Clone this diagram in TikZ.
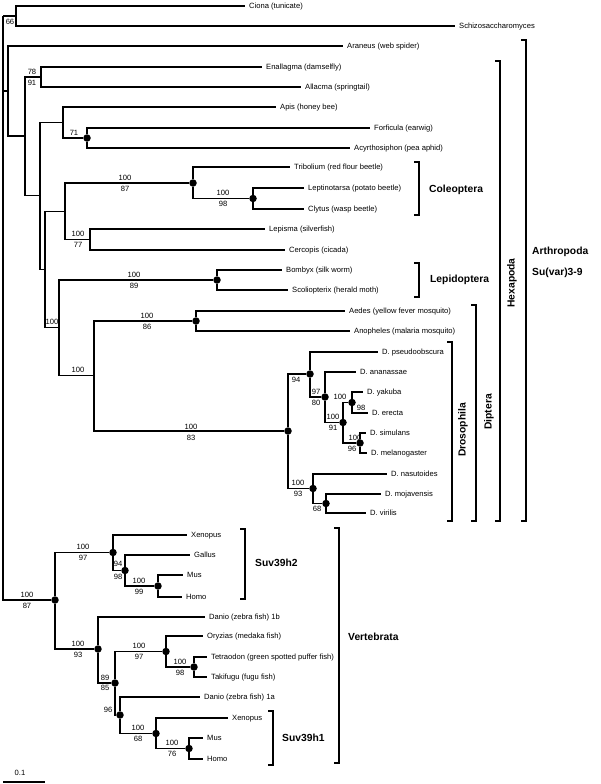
\documentclass[tikz,border=0pt]{standalone}
\usepackage{fontspec}
\setmainfont{Liberation Sans}
\newcommand\mylbl{\fontsize{7.6}{9}\selectfont}
\newcommand\mygrp{\fontsize{10.3}{12}\selectfont\bfseries}
\begin{document}
\begin{tikzpicture}[x=1pt,y=-1pt,
  br/.style={line width=1.15pt},
  brk/.style={line width=1.2pt},
  dot/.style={circle,fill=black,inner sep=0pt,minimum size=7.5pt},
  leaf/.style={anchor=west,inner xsep=4pt,inner ysep=0pt,font=\mylbl,text height=5.5pt,text depth=0pt},
  bs/.style={inner sep=0pt,font=\mylbl,text height=5.5pt,text depth=0pt},
  grp/.style={anchor=west,inner sep=0pt,font=\mygrp},
  vgrp/.style={rotate=90,inner sep=0pt,font=\mygrp}]
\useasboundingbox (0,0) rectangle (600,784);
% internal nodes without support dots
\coordinate (root) at (3,16);
\coordinate (n66) at (16,16);
\coordinate (arth) at (8,91);
\coordinate (hexa) at (25,136);
\coordinate (n78) at (41,77);
\coordinate (nB) at (40,195.5);
\coordinate (nApis) at (63,122.5);
\coordinate (nC) at (45,269.5);
\coordinate (nD) at (65,211.5);
\coordinate (nlep) at (90,239.5);
\coordinate (nE) at (59,327.5);
\coordinate (nDip) at (94,375.5);
% internal nodes with dots
\node[dot] (n71) at (87,138) {};
\node[dot] (ncol) at (193,183) {};
\node[dot] (ncol2) at (253,198.5) {};
\node[dot] (nLepi) at (217,280) {};
\node[dot] (nCul) at (196,321) {};
\node[dot] (nDro) at (288,431) {};
\node[dot] (n94) at (310,374) {};
\node[dot] (n97) at (325,397) {};
\node[dot] (n100c) at (343,422.5) {};
\node[dot] (nyak) at (352,402.5) {};
\node[dot] (nsim) at (360,443) {};
\node[dot] (n100b) at (313,488.5) {};
\node[dot] (n68) at (326,503.5) {};
\node[dot] (nV) at (55,600) {};
\node[dot] (nH2) at (113,552.5) {};
\node[dot] (n94v) at (125,570.5) {};
\node[dot] (nmh2) at (158,586) {};
\node[dot] (nH1) at (98,649) {};
\node[dot] (n89) at (115,683) {};
\node[dot] (nfish) at (166,651.5) {};
\node[dot] (ntet) at (194,667) {};
\node[dot] (n96) at (120,715) {};
\node[dot] (nH1b) at (156,733.5) {};
\node[dot] (nmh1) at (189,748.5) {};
% leaves
\node[leaf] (ciona) at (245,6) {Ciona (tunicate)};
\node[leaf] (schizo) at (455,26) {Schizosaccharomyces};
\node[leaf] (araneus) at (343,46) {Araneus (web spider)};
\node[leaf] (enallagma) at (262,67) {Enallagma (damselfly)};
\node[leaf] (allacma) at (301,87) {Allacma (springtail)};
\node[leaf] (apis) at (276,107) {Apis (honey bee)};
\node[leaf] (forficula) at (370,128) {Forficula (earwig)};
\node[leaf] (acyrtho) at (350,148) {Acyrthosiphon (pea aphid)};
\node[leaf] (tribolium) at (290,167) {Tribolium (red flour beetle)};
\node[leaf] (leptino) at (304,188) {Leptinotarsa (potato beetle)};
\node[leaf] (clytus) at (304,209) {Clytus (wasp beetle)};
\node[leaf] (lepisma) at (265,229) {Lepisma (silverfish)};
\node[leaf] (cercopis) at (285,250) {Cercopis (cicada)};
\node[leaf] (bombyx) at (282,270) {Bombyx (silk worm)};
\node[leaf] (scolio) at (288,290) {Scoliopterix (herald moth)};
\node[leaf] (aedes) at (345,311) {Aedes (yellow fever mosquito)};
\node[leaf] (anopheles) at (350,331) {Anopheles (malaria mosquito)};
\node[leaf] (pseudo) at (378,352) {D. pseudoobscura};
\node[leaf] (ananassae) at (356,372) {D. ananassae};
\node[leaf] (yakuba) at (363,392) {D. yakuba};
\node[leaf] (erecta) at (368,413) {D. erecta};
\node[leaf] (simulans) at (366,433) {D. simulans};
\node[leaf] (melano) at (367,453) {D. melanogaster};
\node[leaf] (nasut) at (387,474) {D. nasutoides};
\node[leaf] (mojav) at (381,494) {D. mojavensis};
\node[leaf] (virilis) at (366,513) {D. virilis};
\node[leaf] (xenopus2) at (187,535) {Xenopus};
\node[leaf] (gallus) at (190,555) {Gallus};
\node[leaf] (mus2) at (183,575) {Mus};
\node[leaf] (homo2) at (182,597) {Homo};
\node[leaf] (danio1b) at (205,617) {Danio (zebra fish) 1b};
\node[leaf] (oryzias) at (203,636) {Oryzias (medaka fish)};
\node[leaf] (tetra) at (207,657) {Tetraodon (green spotted puffer fish)};
\node[leaf] (takifugu) at (207,677) {Takifugu (fugu fish)};
\node[leaf] (danio1a) at (200,697) {Danio (zebra fish) 1a};
\node[leaf] (xenopus1) at (228,718) {Xenopus};
\node[leaf] (mus1) at (203,738) {Mus};
\node[leaf] (homo1) at (203,759) {Homo};
% branches
\draw[br] (root) |- (n66); \draw[br] (root) |- (arth); \draw[br] (root) |- (nV);
\draw[br] (n66) |- (ciona.west); \draw[br] (n66) |- (schizo.west);
\draw[br] (arth) |- (araneus.west); \draw[br] (arth) |- (hexa);
\draw[br] (hexa) |- (n78); \draw[br] (hexa) |- (nB);
\draw[br] (n78) |- (enallagma.west); \draw[br] (n78) |- (allacma.west);
\draw[br] (nB) |- (nApis); \draw[br] (nB) |- (nC);
\draw[br] (nApis) |- (apis.west); \draw[br] (nApis) |- (n71);
\draw[br] (n71) |- (forficula.west); \draw[br] (n71) |- (acyrtho.west);
\draw[br] (nC) |- (nD); \draw[br] (nC) |- (nE);
\draw[br] (nD) |- (ncol); \draw[br] (nD) |- (nlep);
\draw[br] (ncol) |- (tribolium.west); \draw[br] (ncol) |- (ncol2);
\draw[br] (ncol2) |- (leptino.west); \draw[br] (ncol2) |- (clytus.west);
\draw[br] (nlep) |- (lepisma.west); \draw[br] (nlep) |- (cercopis.west);
\draw[br] (nE) |- (nLepi); \draw[br] (nE) |- (nDip);
\draw[br] (nLepi) |- (bombyx.west); \draw[br] (nLepi) |- (scolio.west);
\draw[br] (nDip) |- (nCul); \draw[br] (nDip) |- (nDro);
\draw[br] (nCul) |- (aedes.west); \draw[br] (nCul) |- (anopheles.west);
\draw[br] (nDro) |- (n94); \draw[br] (nDro) |- (n100b);
\draw[br] (n94) |- (pseudo.west); \draw[br] (n94) |- (n97);
\draw[br] (n97) |- (ananassae.west); \draw[br] (n97) |- (n100c);
\draw[br] (n100c) |- (nyak); \draw[br] (n100c) |- (nsim);
\draw[br] (nyak) |- (yakuba.west); \draw[br] (nyak) |- (erecta.west);
\draw[br] (nsim) |- (simulans.west); \draw[br] (nsim) |- (melano.west);
\draw[br] (n100b) |- (nasut.west); \draw[br] (n100b) |- (n68);
\draw[br] (n68) |- (mojav.west); \draw[br] (n68) |- (virilis.west);
\draw[br] (nV) |- (nH2); \draw[br] (nV) |- (nH1);
\draw[br] (nH2) |- (xenopus2.west); \draw[br] (nH2) |- (n94v);
\draw[br] (n94v) |- (gallus.west); \draw[br] (n94v) |- (nmh2);
\draw[br] (nmh2) |- (mus2.west); \draw[br] (nmh2) |- (homo2.west);
\draw[br] (nH1) |- (danio1b.west); \draw[br] (nH1) |- (n89);
\draw[br] (n89) |- (nfish); \draw[br] (n89) |- (n96);
\draw[br] (nfish) |- (oryzias.west); \draw[br] (nfish) |- (ntet);
\draw[br] (ntet) |- (tetra.west); \draw[br] (ntet) |- (takifugu.west);
\draw[br] (n96) |- (danio1a.west); \draw[br] (n96) |- (nH1b);
\draw[br] (nH1b) |- (xenopus1.west); \draw[br] (nH1b) |- (nmh1);
\draw[br] (nmh1) |- (mus1.west); \draw[br] (nmh1) |- (homo1.west);
% support values
\node[bs] (b66) at (10,21.5) {66};
\node[bs] (b78a) at (32,71.5) {78}; \node[bs] (b78b) at (32,82.5) {91};
\node[bs] (b71) at (74,132.5) {71};
\node[bs] (bcola) at (125,177.5) {100}; \node[bs] (bcolb) at (125,188.5) {87};
\node[bs] (bcol2a) at (223,193) {100}; \node[bs] (bcol2b) at (223,204) {98};
\node[bs] (bleppa) at (78,234) {100}; \node[bs] (bleppb) at (78,245) {77};
\node[bs] (bE) at (52,322) {100};
\node[bs] (blepia) at (134,274.5) {100}; \node[bs] (blepib) at (134,285.5) {89};
\node[bs] (bDip) at (78,370) {100};
\node[bs] (bcula) at (147,315.5) {100}; \node[bs] (bculb) at (147,326.5) {86};
\node[bs] (bdroa) at (191,426.5) {100}; \node[bs] (bdrob) at (191,437.5) {83};
\node[bs] (b94) at (296,379.5) {94};
\node[bs] (b97a) at (316,391.5) {97}; \node[bs] (b97b) at (316,402.5) {80};
\node[bs] (bca) at (333,417) {100}; \node[bs] (bcb) at (333,428) {91};
\node[bs] (byaka) at (340,397) {100}; \node[bs] (byakb) at (361,408) {98};
\node[bs] (bsima) at (355,438) {100}; \node[bs] (bsimb) at (352,448.5) {96};
\node[bs] (bba) at (298,483) {100}; \node[bs] (bbb) at (298,494) {93};
\node[bs] (b68) at (317,509) {68};
\node[bs] (bVa) at (27,594.5) {100}; \node[bs] (bVb) at (27,605.5) {87};
\node[bs] (bH2a) at (83,547) {100}; \node[bs] (bH2b) at (83,558) {97};
\node[bs] (b94va) at (118,564) {94}; \node[bs] (b94vb) at (118,577) {98};
\node[bs] (bmh2a) at (139,580.5) {100}; \node[bs] (bmh2b) at (139,591.5) {99};
\node[bs] (bH1a) at (78,643.5) {100}; \node[bs] (bH1b) at (78,654.5) {93};
\node[bs] (b89a) at (105,678) {89}; \node[bs] (b89b) at (105,687.5) {85};
\node[bs] (bfa) at (139,646) {100}; \node[bs] (bfb) at (139,657) {97};
\node[bs] (bta) at (180,661.5) {100}; \node[bs] (btb) at (180,672.5) {98};
\node[bs] (b96) at (108,710) {96};
\node[bs] (bh1a) at (138,728) {100}; \node[bs] (bh1b) at (138,739) {68};
\node[bs] (bm1a) at (172,743) {100}; \node[bs] (bm1b) at (172,754) {76};
% brackets
\coordinate (colT) at (419,162); \coordinate (colB) at (419,215);
\coordinate (lepT) at (419,263); \coordinate (lepB) at (419,297);
\coordinate (droT) at (452,342); \coordinate (droB) at (452,521);
\coordinate (dipT) at (476,305); \coordinate (dipB) at (476,521);
\coordinate (hexT) at (500,61); \coordinate (hexB) at (500,521);
\coordinate (artT) at (526,40); \coordinate (artB) at (526,521);
\coordinate (h2T) at (245,529); \coordinate (h2B) at (245,599);
\coordinate (verT) at (339,528); \coordinate (verB) at (339,763);
\coordinate (h1T) at (273,711); \coordinate (h1B) at (273,765);
\foreach \t/\b in {colT/colB,lepT/lepB,droT/droB,dipT/dipB,hexT/hexB,artT/artB,h2T/h2B,verT/verB,h1T/h1B}
  \draw[brk] ([xshift=-5pt]\t) -- (\t) -- (\b) -- ([xshift=-5pt]\b);
\node[grp] (gcol) at (429,190) {Coleoptera};
\node[grp] (glep) at (430,280) {Lepidoptera};
\node[vgrp] (gdro) at (463,430) {Drosophila};
\node[vgrp] (gdip) at (489,412) {Diptera};
\node[vgrp] (ghex) at (512,283) {Hexapoda};
\node[grp] (gart) at (532,252) {Arthropoda};
\node[grp] (gsuv) at (532,273) {Su(var)3-9};
\node[grp] (gh2) at (255,563) {Suv39h2};
\node[grp] (gver) at (348,637) {Vertebrata};
\node[grp] (gh1) at (282,738) {Suv39h1};
% scale bar
\coordinate (sbL) at (3,782); \coordinate (sbR) at (45,782);
\draw[br] (sbL) -- (sbR);
\node[bs] (sbt) at (20,773) {0.1};
\end{tikzpicture}
\end{document}
